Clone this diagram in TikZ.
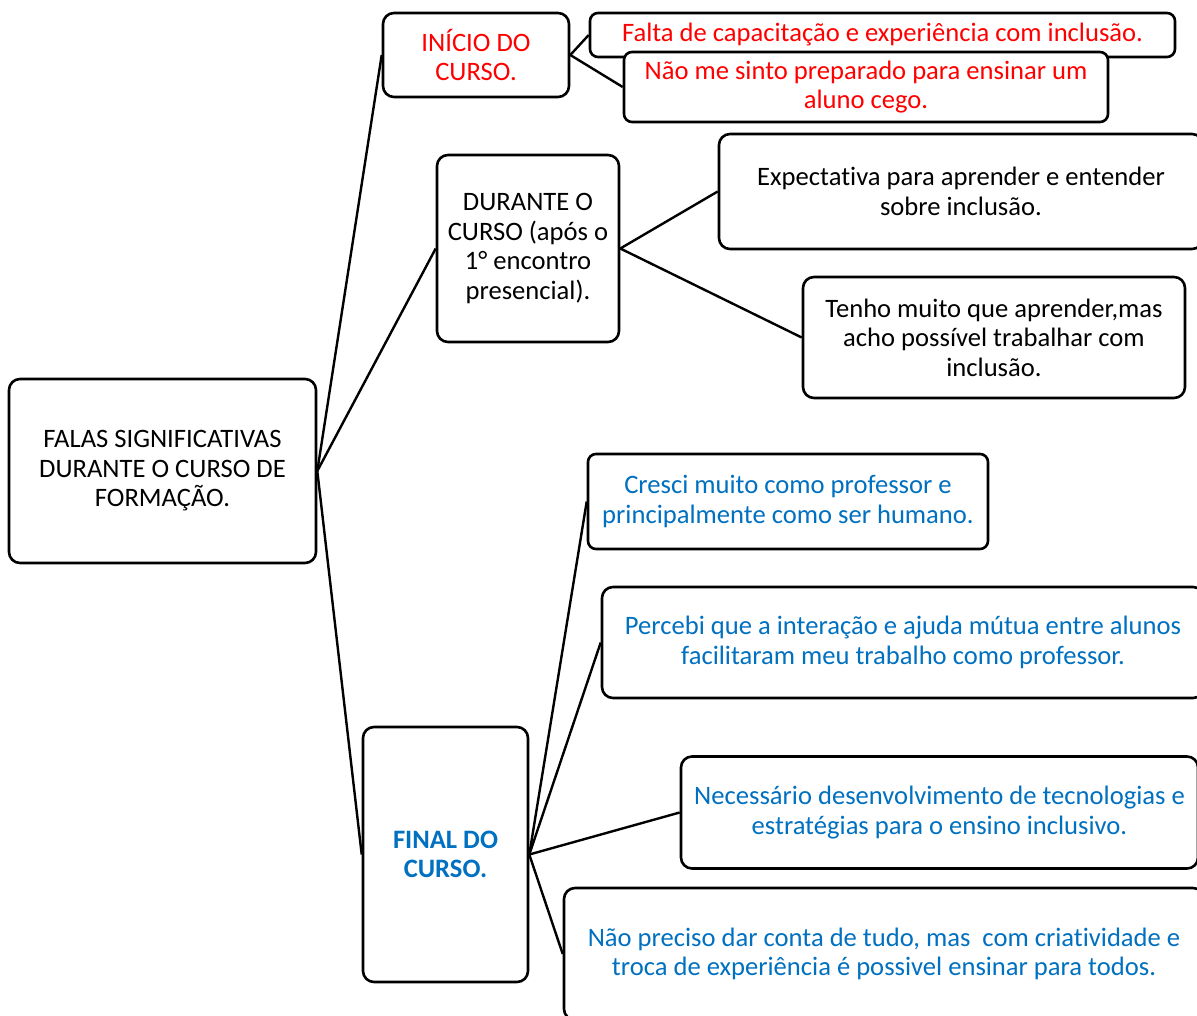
\documentclass[tikz,border=0pt]{standalone}
\usepackage{fontspec}
\usepackage{tikz}
\setmainfont{Carlito}[RawFeature={-liga;-clig;-calt;-dlig}]
\usetikzlibrary{positioning}
\definecolor{falared}{RGB}{255,0,0}
\definecolor{falablue}{RGB}{0,112,192}
\tikzset{fala/.style={draw=black,line width=2.6pt,fill=white,rounded corners=11pt,align=center,inner sep=0pt,font=\fontsize{26.6pt}{29.5pt}\selectfont},
         ramo/.style={draw=black,line width=2.4pt}}

\begin{document}
\begin{tikzpicture}[x=1pt,y=-1pt]
    \useasboundingbox (0,0) rectangle (1197,1016);
    \node[fala,minimum width=307,minimum height=184] (raiz) at (162.5,471) {FALAS SIGNIFICATIVAS\\DURANTE O CURSO DE\\FORMAÇÃO.};
    \node[fala,text=falared,minimum width=186,minimum height=84] (inicio) at (476,55) {INÍCIO DO\\CURSO.};
    \node[fala,minimum width=182,minimum height=187] (durante) at (528,248.5) {DURANTE O\\CURSO (após o\\1° encontro\\presencial).};
    \node[fala,text=falablue,font=\fontsize{26.6pt}{29.5pt}\selectfont\bfseries,minimum width=165,minimum height=255] (final) at (445.5,854.5) {FINAL DO\\CURSO.};
                % inicio
    \node[fala,text=falared,rounded corners=8pt,minimum width=585,minimum height=44] (falta) at (882.5,35) {Falta de capacitação e experiência com inclusão.};
    \node[fala,text=falared,rounded corners=8pt,minimum width=484,minimum height=70] (naosinto) at (866,87) {Não me sinto preparado para ensinar um\\aluno cego.};
                % durante
    \node[fala,minimum width=484,minimum height=115] (expect) at (961,191.5) {Expectativa para aprender e entender\\sobre inclusão.};
    \node[fala,minimum width=382,minimum height=121] (tenho) at (994,337.5) {Tenho muito que aprender,mas\\acho possível trabalhar com\\inclusão.};
                % final
    \node[fala,text=falablue,rounded corners=8pt,minimum width=400,minimum height=95] (cresci) at (788,501.5) {Cresci muito como professor e\\principalmente como ser humano.};
    \node[fala,text=falablue,minimum width=602,minimum height=111] (percebi) at (903,642.5) {Percebi que a interação e ajuda mútua entre alunos\\facilitaram meu trabalho como professor.};
    \node[fala,text=falablue,minimum width=517,minimum height=112] (necess) at (939.5,812.5) {Necessário desenvolvimento de tecnologias e\\estratégias para o ensino inclusivo.};
    \node[fala,text=falablue,minimum width=640,minimum height=132] (naopreciso) at (884,954) {Não preciso dar conta de tudo, mas\ \ com criatividade e\\troca de experiência é possivel ensinar para todos.};
    \draw[ramo] (raiz.east) -- (inicio.west);
    \draw[ramo] (raiz.east) -- (durante.west);
    \draw[ramo] (raiz.east) -- (final.west);
    \draw[ramo] (inicio.east) -- (falta.west);
    \draw[ramo] (inicio.east) -- (naosinto.west);
    \draw[ramo] (durante.east) -- (expect.west);
    \draw[ramo] (durante.east) -- (tenho.west);
    \draw[ramo] (final.east) -- (cresci.west);
    \draw[ramo] (final.east) -- (percebi.west);
    \draw[ramo] (final.east) -- (necess.west);
    \draw[ramo] (final.east) -- (naopreciso.west);
\end{tikzpicture}
\end{document}
